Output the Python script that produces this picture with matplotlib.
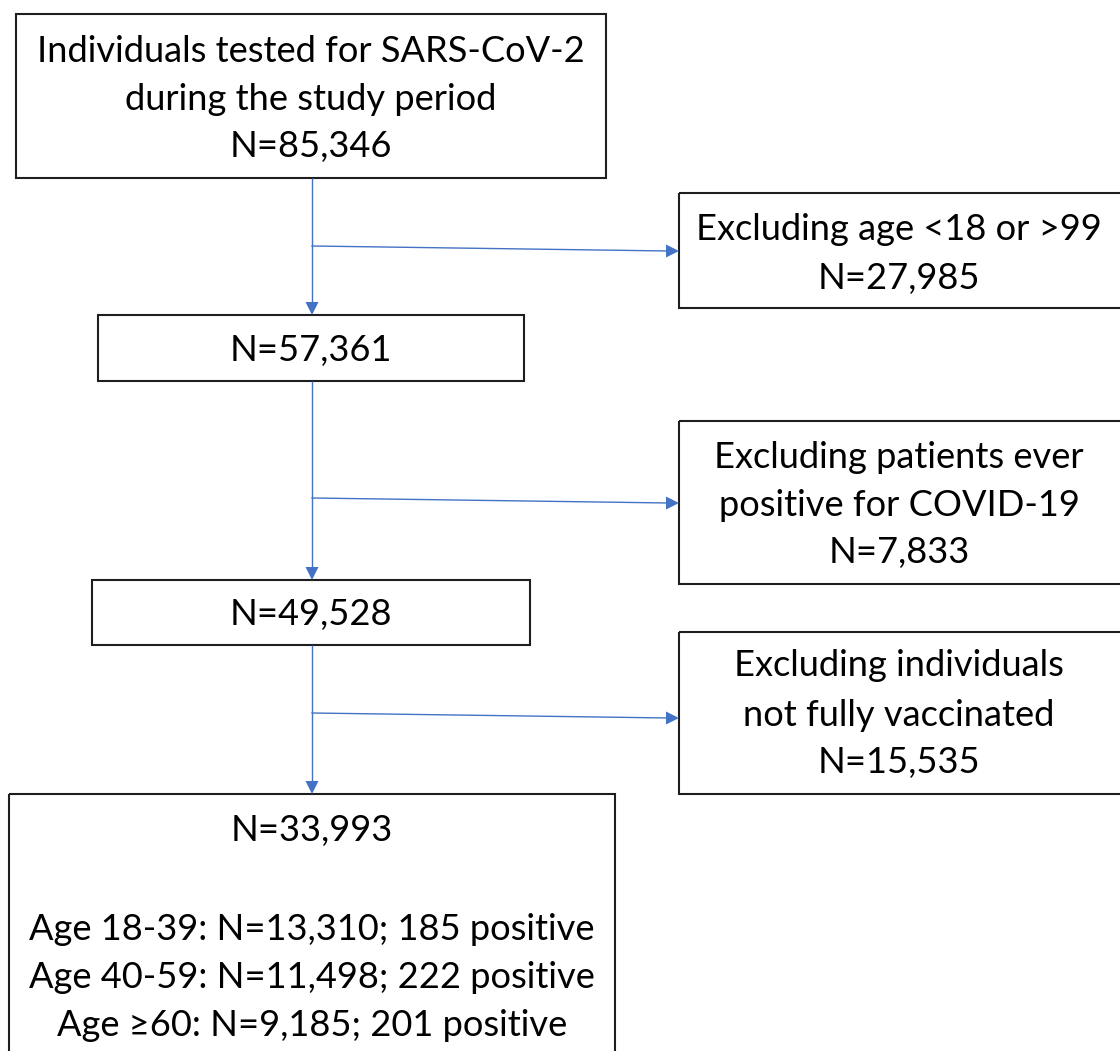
import matplotlib
matplotlib.use("Agg")
import matplotlib.pyplot as plt
from matplotlib.patches import Rectangle, Polygon

# ---- data (flowchart text) ----
main_texts = [
    ["Individuals tested for SARS-CoV-2", "during the study period", "N=85,346"],
    ["N=57,361"],
    ["N=49,528"],
]
excl_texts = [
    ["Excluding age <18 or >99", "N=27,985"],
    ["Excluding patients ever", "positive for COVID-19", "N=7,833"],
    ["Excluding individuals", "not fully vaccinated", "N=15,535"],
]
final_texts = ["N=33,993", "", "Age 18-39: N=13,310; 185 positive",
               "Age 40-59: N=11,498; 222 positive", "Age \u226560: N=9,185; 201 positive"]

# ---- layout (pixel coordinates, y downwards) ----
W, H = 1120, 1051
FONT = ["Lato", "DejaVu Sans"]
BLUE = "#4472C4"
EDGE = "#1e1e1e"

fig = plt.figure(figsize=(W / 100, H / 100), dpi=100)
ax = fig.add_axes([0, 0, 1, 1])
ax.set_xlim(0, W)
ax.set_ylim(H, 0)
ax.axis("off")

# determine font size so the widest final line spans ~567 px
probe = ax.text(0, 0, final_texts[2], fontsize=20, family=FONT)
fig.canvas.draw()
wpx = probe.get_window_extent().width
probe.remove()
FS = 20 * 567.0 / wpx

def box(x0, y0, x1, y1):
    ax.add_patch(Rectangle((x0, y0), x1 - x0, y1 - y0, fill=False,
                           edgecolor=EDGE, linewidth=1.5, clip_on=True))

def lines(xc, ys, texts):
    for y, t in zip(ys, texts):
        if t:
            ax.text(xc, y, t, ha="center", va="center_baseline", fontsize=FS,
                    family=FONT, color="#000000")

main_boxes = [(16, 14, 606, 178), (98, 315, 524, 381), (92, 580, 530, 645)]
main_ys = [[48, 96, 144], [348], [612]]
excl_boxes = [(679, 193, 1130, 308), (679, 421, 1130, 584), (679, 632, 1130, 794)]
excl_ys = [[227, 275], [455, 503, 550], [663, 712, 760]]
final_box = (9, 794, 615, 1100)
final_ys = [827, 877, 927, 975, 1022]

for b, ys, t in zip(main_boxes, main_ys, main_texts):
    box(*b)
    lines((b[0] + b[2]) / 2, ys, t)
for b, ys, t in zip(excl_boxes, excl_ys, excl_texts):
    box(*b)
    lines(899, ys, t)
box(*final_box)
lines(312, final_ys, final_texts)

# ---- connectors ----
VX = 312
def head(tip, direction, size=13, half=6.5):
    x, y = tip
    if direction == "down":
        pts = [(x, y), (x - half, y - size), (x + half, y - size)]
    else:
        pts = [(x, y), (x - size, y - half), (x - size, y + half)]
    ax.add_patch(Polygon(pts, closed=True, color=BLUE, linewidth=0))

segs = [(178, 315), (381, 580), (645, 794)]
for y0, y1 in segs:
    ax.plot([VX, VX], [y0, y1 - 10], color=BLUE, linewidth=1.0, solid_capstyle="butt")
    head((VX, y1), "down")

harrows = [(246, 251), (498, 503), (713, 718)]
for ya, yb in harrows:
    ax.plot([VX, 679 - 10], [ya, yb], color=BLUE, linewidth=1.0)
    head((679, yb), "right")

fig.savefig("out.png", dpi=100)
